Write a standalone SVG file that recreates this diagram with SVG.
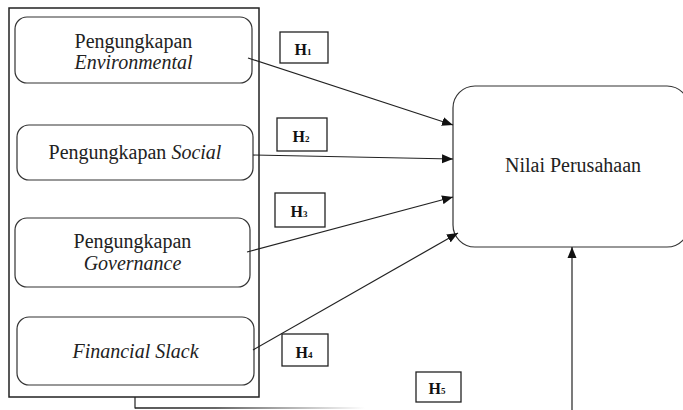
<svg xmlns="http://www.w3.org/2000/svg" width="683" height="410" viewBox="0 0 683 410">
  <defs>
    <marker id="arr" markerUnits="userSpaceOnUse" markerWidth="12" markerHeight="10" refX="11" refY="5" orient="auto">
      <path d="M0,0.5 L11,5 L0,9.5 Z" fill="#111"/>
    </marker>
    <linearGradient id="fade" x1="135" y1="0" x2="365" y2="0" gradientUnits="userSpaceOnUse">
      <stop offset="0" stop-color="#222"/>
      <stop offset="0.35" stop-color="#333"/>
      <stop offset="1" stop-color="#fff"/>
    </linearGradient>
  </defs>
  <style>
    .outer { fill: none; stroke: #222; stroke-width: 1.5; }
    .node { fill: #fff; stroke: #333; stroke-width: 1.2; }
    .hbox { fill: #fff; stroke: #222; stroke-width: 1.3; }
    .conn { fill: none; stroke: #222; stroke-width: 1.2; }
  </style>

  <g id="outer-group">
    <rect class="outer" x="9" y="8" width="250" height="389"/>
  </g>

  <g id="node-environmental">
    <rect class="node" x="15" y="17" width="237" height="66" rx="12"/>
    <text x="133.5" y="48" style="font-family:'Liberation Serif',serif;font-size:20px;fill:#222;text-anchor:middle">Pengungkapan</text>
    <text x="133.5" y="69" style="font-family:'Liberation Serif',serif;font-size:20px;font-style:italic;fill:#222;text-anchor:middle">Environmental</text>
  </g>

  <g id="node-social">
    <rect class="node" x="17" y="125" width="236" height="55" rx="12"/>
    <text x="135" y="159" style="font-family:'Liberation Serif',serif;font-size:20px;fill:#222;text-anchor:middle">Pengungkapan <tspan style="font-style:italic">Social</tspan></text>
  </g>

  <g id="node-governance">
    <rect class="node" x="15" y="218" width="235" height="69" rx="12"/>
    <text x="132.5" y="248" style="font-family:'Liberation Serif',serif;font-size:20px;fill:#222;text-anchor:middle">Pengungkapan</text>
    <text x="132.5" y="270" style="font-family:'Liberation Serif',serif;font-size:20px;font-style:italic;fill:#222;text-anchor:middle">Governance</text>
  </g>

  <g id="node-financial-slack">
    <rect class="node" x="17" y="317" width="237" height="68" rx="12"/>
    <text x="135.5" y="358" style="font-family:'Liberation Serif',serif;font-size:20px;font-style:italic;fill:#222;text-anchor:middle">Financial Slack</text>
  </g>

  <g id="node-nilai">
    <rect class="node" x="453" y="86" width="236" height="161" rx="22"/>
    <text x="573" y="172" style="font-family:'Liberation Serif',serif;font-size:20px;fill:#222;text-anchor:middle">Nilai Perusahaan</text>
  </g>

  <g id="connectors">
    <line class="conn" x1="248" y1="58" x2="453" y2="125" marker-end="url(#arr)"/>
    <line class="conn" x1="253" y1="155" x2="453" y2="159" marker-end="url(#arr)"/>
    <line class="conn" x1="247" y1="252" x2="453" y2="197" marker-end="url(#arr)"/>
    <line class="conn" x1="253" y1="350" x2="458" y2="233" marker-end="url(#arr)"/>
    <line class="conn" x1="572" y1="410" x2="572" y2="247" marker-end="url(#arr)"/>
    <polyline class="conn" points="135,397 135,408 135.5,408"/>
    <line x1="135" y1="408" x2="365" y2="408" stroke="url(#fade)" stroke-width="1.4"/>
  </g>

  <g id="label-h1">
    <rect class="hbox" x="280" y="32" width="48" height="31"/>
    <text x="303" y="55" style="font-family:'Liberation Serif',serif;font-size:16px;font-weight:bold;fill:#111;text-anchor:middle">H<tspan style="font-size:9px">1</tspan></text>
  </g>
  <g id="label-h2">
    <rect class="hbox" x="277" y="118" width="50" height="33"/>
    <text x="301" y="142" style="font-family:'Liberation Serif',serif;font-size:16px;font-weight:bold;fill:#111;text-anchor:middle">H<tspan style="font-size:9px">2</tspan></text>
  </g>
  <g id="label-h3">
    <rect class="hbox" x="275" y="193" width="50" height="34"/>
    <text x="299" y="217" style="font-family:'Liberation Serif',serif;font-size:16px;font-weight:bold;fill:#111;text-anchor:middle">H<tspan style="font-size:9px">3</tspan></text>
  </g>
  <g id="label-h4">
    <rect class="hbox" x="282" y="334" width="46" height="32"/>
    <text x="304" y="358" style="font-family:'Liberation Serif',serif;font-size:16px;font-weight:bold;fill:#111;text-anchor:middle">H<tspan style="font-size:9px">4</tspan></text>
  </g>
  <g id="label-h5">
    <rect class="hbox" x="416" y="372" width="45" height="30"/>
    <text x="437" y="394" style="font-family:'Liberation Serif',serif;font-size:16px;font-weight:bold;fill:#111;text-anchor:middle">H<tspan style="font-size:9px">5</tspan></text>
  </g>
</svg>
